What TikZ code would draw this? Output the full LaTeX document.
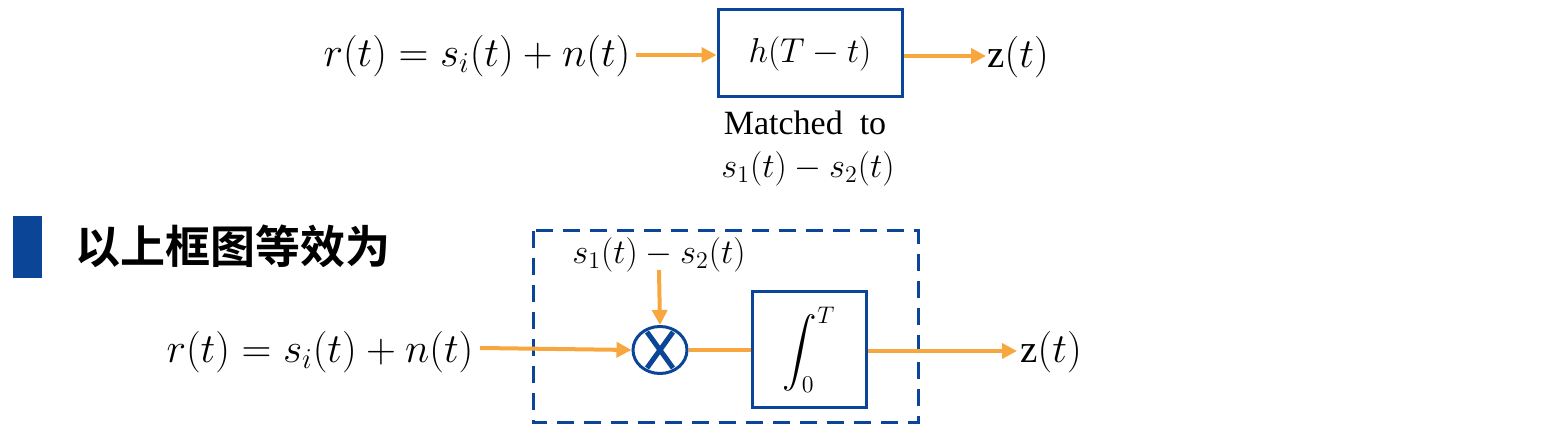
\documentclass[tikz,border=0pt]{standalone}
\usepackage{fontspec}
\usepackage{amsmath}
\newfontfamily\tnr{Liberation Serif}
\newfontfamily\cjkf{Noto Sans CJK SC Bold}
\usetikzlibrary{arrows.meta,shapes.geometric,calc}
\definecolor{myblue}{HTML}{0B4597}
\definecolor{myorange}{HTML}{F7A73E}
\tikzset{
  txt/.style={font=\fontsize{17}{20}\selectfont, inner sep=0pt},
  txtb/.style={font=\fontsize{18}{21}\selectfont, inner sep=0pt},
  txtc/.style={font=\fontsize{19.5}{22}\selectfont, inner sep=0pt},
  blk/.style={draw=myblue, line width=1.5pt, inner sep=0pt},
  sig/.style={draw=myorange, line width=2pt},
  sigarr/.style={sig, -{Triangle[length=7.5pt,width=7.5pt]}},
}
\begin{document}
\begin{tikzpicture}[x=0.5pt,y=-0.5pt]
\useasboundingbox (0,0) rectangle (1555,442);
% top row
\node[txtc] (rin1) at (477,56) {$r(t)=s_i(t)+n(t)$};
\node[blk, minimum width=92pt, minimum height=43.5pt] (hbox) at (810,53.5) {};
\node[txt] (hlab) at (hbox.center) {$h(T-t)$};
\node[txtc, anchor=west] (zout1) at (987,57) {{\tnr z}$(t)$};
\node[txt] (match) at (805,123) {\tnr Matched\ \ to};
\node[txtb] (mlab) at (808,169) {$s_1(t)-s_2(t)$};
\draw[sigarr] (636,55) coordinate (a1) -- (a1 -| hbox.west);
\draw[sigarr] (hbox.east |- 0,56) coordinate (a2) -- (986,56);
% heading
\fill[myblue] (13,216) rectangle (42,278);
\node[inner sep=0pt, font=\fontsize{22.5}{26}\selectfont\cjkf] (head) at (233,246) {以上框图等效为};
% bottom
\draw[myblue, line width=1.5pt, dash pattern=on 8.5pt off 5pt] (533,231) rectangle (918,423);
\node[txtb] (s12) at (659,255) {$s_1(t)-s_2(t)$};
\node[txtc] (rin2) at (320,352) {$r(t)=s_i(t)+n(t)$};
\node[blk, ellipse, minimum width=27pt, minimum height=23.5pt] (mul) at (660,350) {};
\draw[myblue, line width=2.5pt] ($(mul.center)+(-13,-18)$) -- ($(mul.center)+(13,18)$)
  ($(mul.center)+(13,-18)$) -- ($(mul.center)+(-13,18)$);
\node[blk, minimum width=57pt, minimum height=58pt] (intb) at (809,350) {};
\node[txt] (intl) at (intb.center) {$\displaystyle\int_0^T$};
\node[txtc, anchor=west] (zout2) at (1020,352) {{\tnr z}$(t)$};
\draw[sigarr] (659,270) -- (mul.north);
\draw[sigarr] (480,348) -- (mul.west);
\draw[sig] (mul.east) -- (mul.east -| intb.west);
\draw[sigarr] (intb.east |- 0,351) coordinate (b1) -- (1017,351);
\end{tikzpicture}
\end{document}
